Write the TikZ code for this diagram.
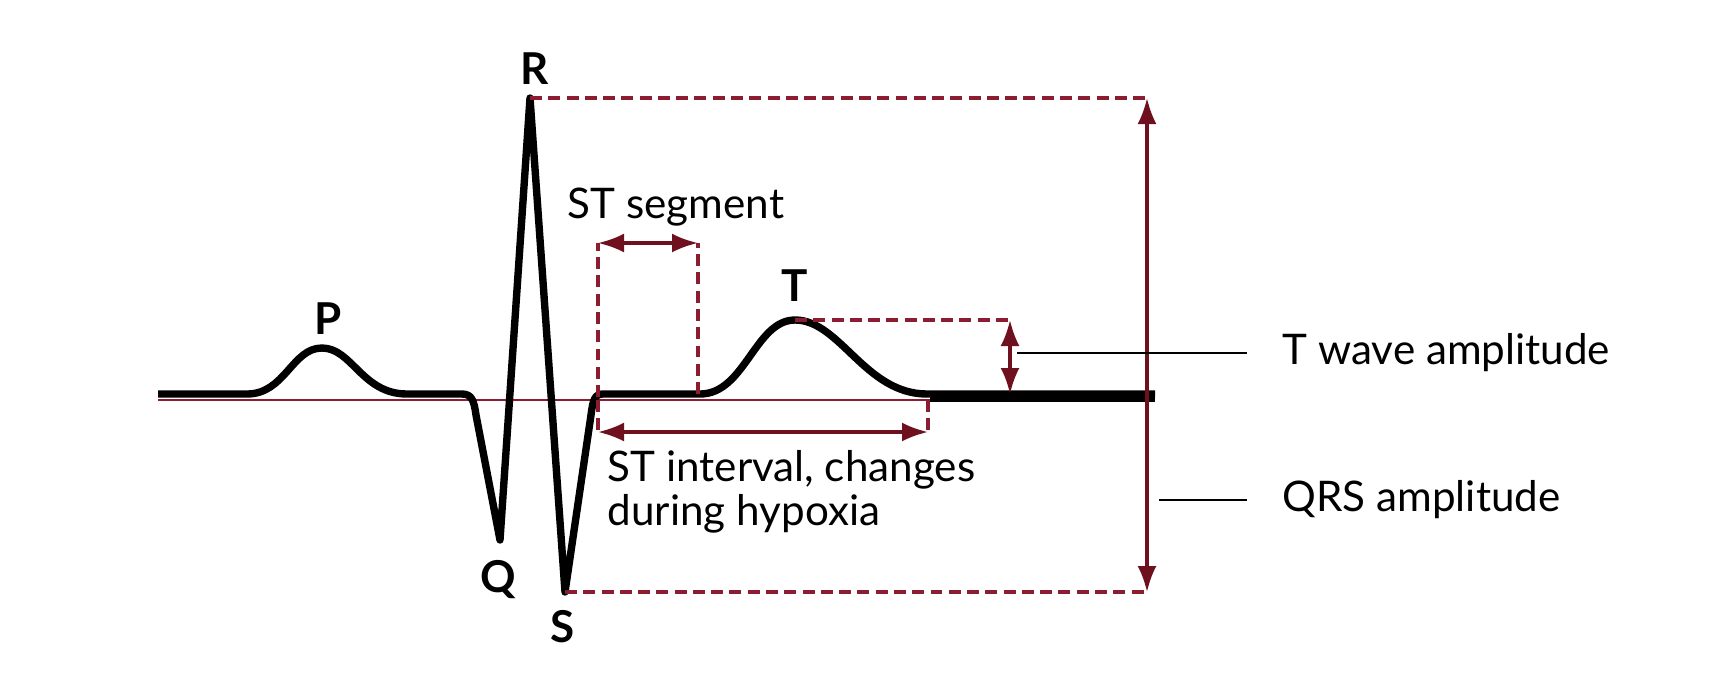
\documentclass[tikz,border=0pt]{standalone}
\usepackage{fontspec}
\setmainfont{Lato}
\usepackage{tikz}
\usetikzlibrary{arrows.meta,positioning}
\definecolor{ecgred}{RGB}{110,16,30}
\definecolor{ecgdash}{RGB}{140,28,48}

\begin{document}
\begin{tikzpicture}[x=1cm,y=1cm,
  wave/.style={line width=2.1pt,line join=round},
  isoline/.style={draw=ecgdash,line width=0.8pt},
  guide/.style={draw=ecgdash,line width=0.9pt,dash pattern=on 3.4pt off 1.8pt},
  dimarr/.style={{Latex[length=2.6mm,width=1.9mm]}-{Latex[length=2.6mm,width=1.9mm]},draw=ecgred,line width=0.9pt},
  wlbl/.style={font=\fontsize{12.5}{14}\selectfont\bfseries,inner sep=1pt},
  txt/.style={font=\fontsize{12}{12.4}\selectfont,inner sep=0pt,align=left},
  leader/.style={draw=black,line width=0.6pt}]
  \useasboundingbox (0,0) rectangle (17.21,6.77);
  % key points of the trace
  \coordinate (start) at (1.58,2.83);
  \coordinate (Ppk) at (3.22,3.29);
  \coordinate (Qpk) at (5.00,1.37);
  \coordinate (Rpk) at (5.30,5.79);
  \coordinate (Spk) at (5.65,0.85);
  \coordinate (Tpk) at (7.95,3.57);
  \coordinate (Tend) at (9.27,2.83);
  \coordinate (stop) at (11.55,2.83);
  % isoelectric line
  \draw[isoline] (1.58,2.77) -- (11.55,2.77);
  % ECG trace
  \draw[wave] (start) -- (2.47,2.83)
    .. controls (2.85,2.83) and (2.92,3.29) .. (Ppk)
    .. controls (3.52,3.29) and (3.62,2.83) .. (4.07,2.83)
    -- (4.62,2.83) .. controls (4.72,2.83) and (4.74,2.76) .. (4.76,2.62)
    -- (Qpk) -- (Rpk) -- (Spk) -- (5.91,2.62)
    .. controls (5.93,2.78) and (5.95,2.83) .. (6.03,2.83)
    -- (7.00,2.83)
    .. controls (7.45,2.83) and (7.55,3.57) .. (Tpk)
    .. controls (8.40,3.57) and (8.65,2.83) .. (Tend) -- (stop);
  \draw[line width=2.9pt] (9.30,2.80) -- (11.55,2.80);
  % wave labels
  \node[wlbl] (P) at (3.28,3.58) {P};
  \node[wlbl] (R) at (5.35,6.08) {R};
  \node[wlbl] (Q) at (4.98,0.97) {Q};
  \node[wlbl] (S) at (5.63,0.50) {S};
  \node[wlbl] (T) at (7.95,3.91) {T};
  % QRS amplitude
  \coordinate (qrsTop) at (11.47,5.79);
  \coordinate (qrsBot) at (11.47,0.85);
  \draw[guide] (Rpk) -- (qrsTop);
  \draw[guide] (Spk) -- (qrsBot);
  \draw[dimarr] (qrsBot) -- (qrsTop);
  % T wave amplitude
  \coordinate (tampTop) at (10.10,3.57);
  \coordinate (tampBot) at (10.10,2.83);
  \draw[guide] (Tpk) -- (tampTop);
  \draw[dimarr] (tampBot) -- (tampTop);
  % ST segment
  \coordinate (sgL) at (5.98,4.34);
  \coordinate (sgR) at (6.98,4.34);
  \draw[guide] (5.98,2.80) -- (sgL);
  \draw[guide] (6.98,2.83) -- (sgR);
  \draw[dimarr] (sgL) -- (sgR);
  \node[txt,anchor=west] (stseg) at (5.67,4.70) {ST segment};
  % ST interval
  \coordinate (ivL) at (5.98,2.45);
  \coordinate (ivR) at (9.28,2.45);
  \draw[guide] (5.98,2.77) -- (ivL);
  \draw[guide] (9.28,2.77) -- (ivR);
  \draw[dimarr] (ivL) -- (ivR);
  \node[txt,anchor=north west] (stint) at (6.07,2.27) {ST interval, changes\\during hypoxia};
  % leaders to the right
  \node[txt,anchor=west] (tamp) at (12.82,3.24) {T wave amplitude};
  \node[txt,anchor=west] (qrsamp) at (12.82,1.77) {QRS amplitude};
  \coordinate (tlead) at (10.17,3.24);
  \coordinate (qlead) at (11.59,1.77);
  \draw[leader] (tlead) -- ([xshift=-3.5mm]tamp.west);
  \draw[leader] (qlead) -- ([xshift=-3.5mm]qrsamp.west);
\end{tikzpicture}
\end{document}
